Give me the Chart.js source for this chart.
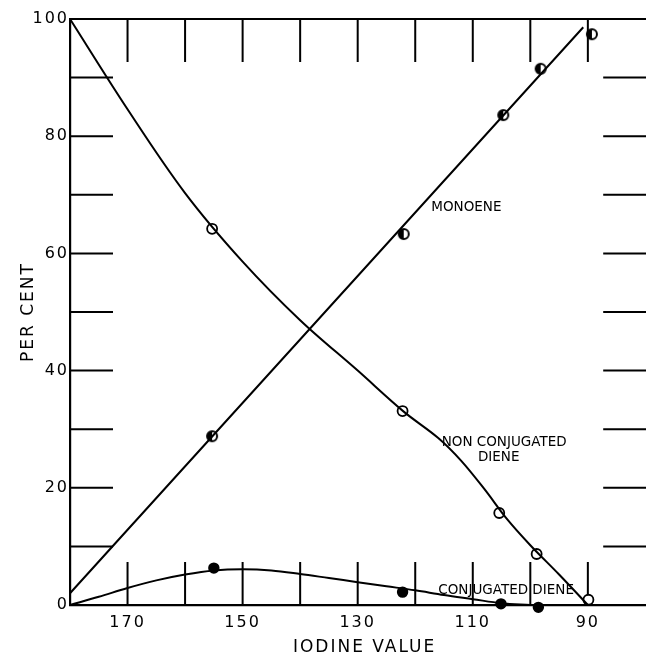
<!DOCTYPE html>
<html>
<head>
<meta charset="utf-8">
<script src="https://cdn.jsdelivr.net/npm/chart.js@4/dist/chart.umd.min.js"></script>
<style>
  html, body { margin: 0; background: #fff; overflow: hidden; }
  #grafico { display: block; }
</style>
</head>
<body>
<canvas id="grafico" width="666" height="655"></canvas>
<script>
// measured points (iodine value, per cent)
const nonConjX = [155.3, 122.2, 105.4, 98.9, 89.9];
const nonConjY = [64.2, 33.1, 15.7, 8.7, 0.9];
const monoX = [155.3, 122.0, 104.7, 98.2, 89.3];
const monoY = [28.8, 63.3, 83.6, 91.5, 97.4];
const conjX = [155.0, 122.2, 105.1, 98.6];
const conjY = [6.3, 2.2, 0.2, -0.4];

// hand drawn curves
const nonConjCurveX = [180, 170, 160, 150, 140, 130, 122, 116, 112, 108, 104, 100, 95, 90];
const nonConjCurveY = [100, 84.6, 70.3, 58.6, 48.6, 40.0, 33.0, 28.5, 24.6, 19.8, 14.6, 10.2, 5.2, 0];
const monoCurveX = [180, 90.8];
const monoCurveY = [2, 98.6];
const conjCurveX = [180, 175, 170, 165, 160, 155, 150, 145, 140, 135, 130, 125, 120, 115, 110, 105, 100];
const conjCurveY = [0, 1.4, 2.9, 4.2, 5.2, 5.9, 6.1, 5.9, 5.3, 4.6, 3.9, 3.2, 2.5, 1.7, 1.0, 0.3, 0];

// axes
const xTickMarks = [170, 160, 150, 140, 130, 120, 110, 100, 90];
const xLabels = [170, 150, 130, 110, 90];
const yTickMarks = [0, 10, 20, 30, 40, 50, 60, 70, 80, 90, 100];
const yLabels = [0, 20, 40, 60, 80, 100];

// curve names written on the plot
const labelTexts = ['MONOENE', 'NON CONJUGATED', 'DIENE', 'CONJUGATED DIENE'];
const labelX = [117.2, 115.4, 105.5, 116.0];
const labelY = [67.9, 27.8, 25.1, 2.4];
const labelAlign = ['left', 'left', 'center', 'left'];

const fuente = 'DejaVu Sans';

const juntar = (xs, ys) => xs.map((x, i) => ({ x, y: ys[i] }));

// half filled circle for the monoene points
const crearMarcaMedia = () => {
    const c = document.createElement('canvas');
    c.width = 16;
    c.height = 16;
    const g = c.getContext('2d');
    g.beginPath();
    g.arc(8, 8, 5, 0, Math.PI * 2);
    g.fillStyle = '#fff';
    g.fill();
    g.beginPath();
    g.arc(8, 8, 5, Math.PI / 2, Math.PI * 1.5);
    g.fillStyle = '#000';
    g.fill();
    g.beginPath();
    g.arc(8, 8, 5, 0, Math.PI * 2);
    g.lineWidth = 2;
    g.strokeStyle = '#000';
    g.stroke();
    return c;
};

const curva = (xs, ys) => ({
    data: juntar(xs, ys),
    showLine: true,
    borderColor: '#000',
    borderWidth: 2,
    pointRadius: 0,
    tension: 0.35,
    fill: false,
    clip: false
});

const puntos = (xs, ys, extra) => Object.assign({
    data: juntar(xs, ys),
    showLine: false,
    pointRadius: 5,
    pointBorderColor: '#000',
    pointBorderWidth: 1.8,
    clip: false
}, extra);

// tick marks pointing into the plot, top frame line and curve names
const marcasInternas = {
    id: 'marcasInternas',
    beforeDraw(chart) {
        chart.ctx.letterSpacing = '2px';
    },
    beforeDatasetsDraw(chart) {
        const { ctx, chartArea: a, scales: { x, y } } = chart;
        ctx.save();
        ctx.strokeStyle = '#000';
        ctx.lineWidth = 2;
        ctx.beginPath();
        ctx.moveTo(a.left, a.top);
        ctx.lineTo(a.right, a.top);
        xTickMarks.forEach(v => {
            const px = x.getPixelForValue(v);
            ctx.moveTo(px, a.top);
            ctx.lineTo(px, a.top + 43);
            ctx.moveTo(px, a.bottom);
            ctx.lineTo(px, a.bottom - 43);
        });
        yTickMarks.filter(v => v > 0 && v < 100).forEach(v => {
            const py = y.getPixelForValue(v);
            ctx.moveTo(a.left, py);
            ctx.lineTo(a.left + 43, py);
            ctx.moveTo(a.right - 56, py);
            ctx.lineTo(a.right, py);
        });
        ctx.stroke();
        ctx.restore();
    },
    afterDatasetsDraw(chart) {
        const { ctx, scales: { x, y } } = chart;
        ctx.save();
        ctx.letterSpacing = '0px';
        ctx.fillStyle = '#000';
        ctx.font = '13.5px "' + fuente + '"';
        ctx.textBaseline = 'middle';
        labelTexts.forEach((t, i) => {
            ctx.textAlign = labelAlign[i];
            ctx.fillText(t, x.getPixelForValue(labelX[i]), y.getPixelForValue(labelY[i]));
        });
        ctx.restore();
    },
    afterDraw(chart) {
        chart.ctx.letterSpacing = '0px';
    }
};

new Chart(document.getElementById('grafico'), {
    type: 'scatter',
    data: {
        datasets: [
            curva(nonConjCurveX, nonConjCurveY),
            curva(monoCurveX, monoCurveY),
            curva(conjCurveX, conjCurveY),
            puntos(nonConjX, nonConjY, { pointBackgroundColor: '#fff' }),
            puntos(monoX, monoY, { pointStyle: crearMarcaMedia() }),
            puntos(conjX, conjY, { pointBackgroundColor: '#000', pointRadius: 4.8 })
        ]
    },
    options: {
        responsive: false,
        animation: false,
        layout: { padding: { top: 19, right: 0, bottom: 0, left: 0 } },
        plugins: {
            legend: { display: false },
            tooltip: { enabled: false }
        },
        scales: {
            x: {
                type: 'linear',
                reverse: true,
                min: 77.6,
                max: 180,
                afterBuildTicks: s => { s.ticks = xTickMarks.map(v => ({ value: v })); },
                afterFit: s => { s.height = 50; },
                grid: { display: false, drawTicks: false },
                border: { display: true, color: '#000', width: 2.2 },
                ticks: {
                    color: '#000',
                    padding: 8,
                    maxRotation: 0,
                    autoSkip: false,
                    font: { family: fuente, size: 16 },
                    callback: v => xLabels.includes(v) ? String(v) : ''
                },
                title: {
                    display: true,
                    text: 'IODINE VALUE',
                    color: '#000',
                    padding: { top: 0, bottom: -3 },
                    font: { family: fuente, size: 17 }
                }
            },
            y: {
                type: 'linear',
                min: 0,
                max: 100,
                afterBuildTicks: s => { s.ticks = yTickMarks.map(v => ({ value: v })); },
                afterFit: s => { s.width = 70; },
                grid: { display: false, drawTicks: false },
                border: { display: true, color: '#000', width: 2.2 },
                ticks: {
                    color: '#000',
                    padding: 1,
                    autoSkip: false,
                    font: { family: fuente, size: 16 },
                    callback: v => yLabels.includes(v) ? String(v) : ''
                },
                title: {
                    display: true,
                    text: 'PER CENT',
                    color: '#000',
                    padding: { top: 18, bottom: 0 },
                    font: { family: fuente, size: 17 }
                }
            }
        }
    },
    plugins: [marcasInternas]
});
</script>
</body>
</html>
